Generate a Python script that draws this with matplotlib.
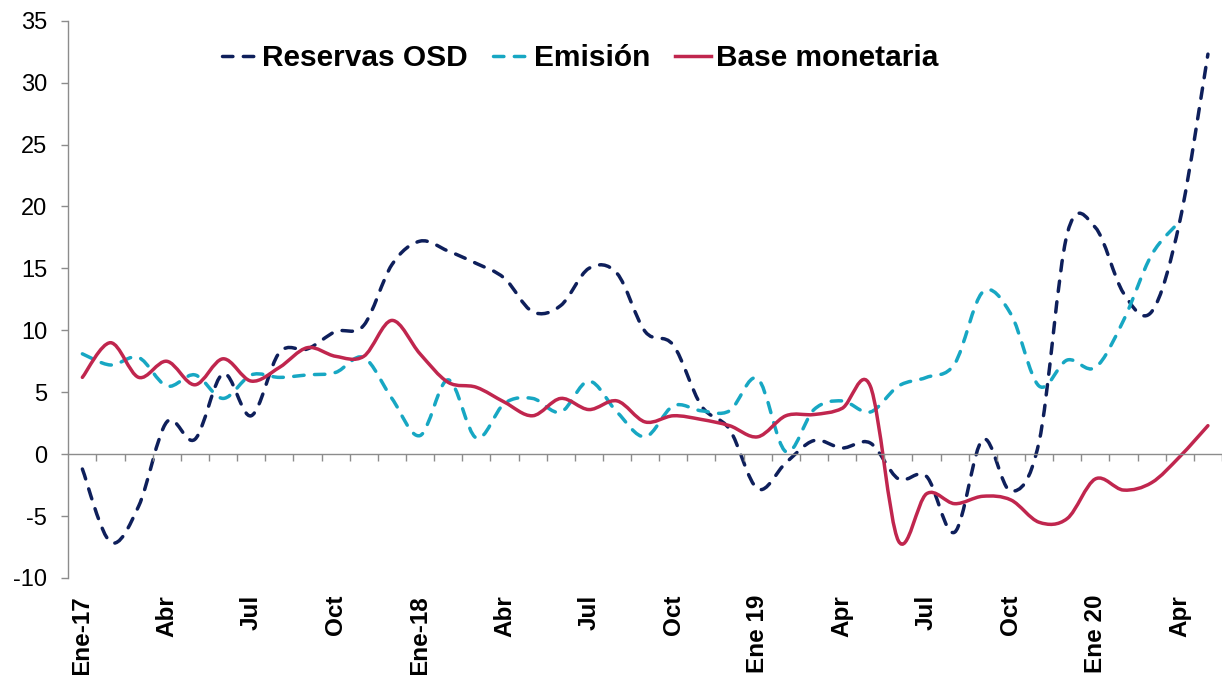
import matplotlib
matplotlib.use("Agg")
import matplotlib.pyplot as plt
import numpy as np
from matplotlib.lines import Line2D
from matplotlib.patches import PathPatch
from matplotlib.path import Path

plt.rcParams["font.family"] = ["Liberation Sans", "DejaVu Sans"]
plt.rcParams["axes.unicode_minus"] = False

# monthly, Ene-2017 .. May-2020
RESERVAS = [-1.2, -7.1, -4.2, 2.6, 1.2, 6.5, 3.1, 8.2, 8.5, 9.9,
            10.4, 15.3, 17.2, 16.4, 15.4, 14.2, 11.5, 12.0, 15.0, 14.6,
            9.9, 8.8, 3.9, 2.0, -2.8, -0.7, 1.1, 0.5, 0.9, -2.0,
            -1.8, -6.3, 1.2, -3.0, 1.0, 17.8, 18.3, 13.0, 11.5, 18.8,
            32.3]
EMISION = [8.1, 7.2, 7.8, 5.5, 6.4, 4.5, 6.4, 6.2, 6.4, 6.6,
           7.8, 4.5, 1.5, 6.0, 1.3, 4.1, 4.5, 3.4, 5.9, 3.4,
           1.4, 3.9, 3.5, 3.5, 6.1, 0.2, 3.6, 4.3, 3.4, 5.5,
           6.2, 7.3, 13.1, 11.3, 5.5, 7.6, 7.0, 10.8, 16.1, 18.8]
BASE = [6.2, 9.0, 6.2, 7.5, 5.6, 7.7, 5.9, 7.0, 8.6, 7.9,
        7.9, 10.8, 8.1, 5.8, 5.4, 4.2, 3.1, 4.5, 3.6, 4.3,
        2.6, 3.1, 2.8, 2.3, 1.4, 3.1, 3.2, 3.7, 5.5, -7.0,
        -3.2, -4.0, -3.4, -3.7, -5.5, -5.2, -2.0, -2.9, -2.3, -0.2,
        2.3]

TICK_POS = [0, 3, 6, 9, 12, 15, 18, 21, 24, 27, 30, 33, 36, 39]
TICK_LABELS = ["Ene-17", "Abr", "Jul", "Oct", "Ene-18", "Abr", "Jul", "Oct",
               "Ene 19", "Apr", "Jul", "Oct", "Ene 20", "Apr"]

SERIES = [
    ("Reservas OSD", RESERVAS, "#0e1f5b", (0, (3.0, 3.0))),
    ("Emisión", EMISION, "#17a7c3", (0, (3.0, 3.0))),
    ("Base monetaria", BASE, "#c0264e", "-"),
]

GRAY = "#8c8c8c"
LW = 2.5


def smooth_path(values):
    # excel-like smoothed line: bezier through each point
    y = np.asarray(values, dtype=float)
    pts = np.column_stack([np.arange(len(y), dtype=float), y])
    padded = np.vstack([pts[0], pts, pts[-1]])
    verts = [pts[0]]
    codes = [Path.MOVETO]
    for i in range(len(pts) - 1):
        p0, p1, p2, p3 = padded[i], padded[i + 1], padded[i + 2], padded[i + 3]
        verts += [p1 + (p2 - p0) / 6.0, p2 - (p3 - p1) / 6.0, p2]
        codes += [Path.CURVE4] * 3
    return Path(verts, codes)


def main():
    fig = plt.figure(figsize=(12.22, 6.75), dpi=100)
    ax = fig.add_axes([68.3 / 1222, 1 - 578 / 675, 1 - 68.3 / 1222, (578 - 20.7) / 675])

    handles = []
    for label, values, color, ls in SERIES:
        patch = PathPatch(smooth_path(values), fill=False, edgecolor=color,
                          linewidth=LW, linestyle=ls, capstyle="round", joinstyle="round")
        ax.add_patch(patch)
        handles.append(Line2D([], [], color=color, linewidth=LW, linestyle=ls,
                              dash_capstyle="round", label=label))

    ax.set_xlim(-0.5, -0.5 + (1222 - 68.3) / 28.2)
    ax.set_ylim(-10, 35)

    for side in ["top", "right"]:
        ax.spines[side].set_visible(False)
    for side in ["left", "bottom"]:
        ax.spines[side].set_color(GRAY)
        ax.spines[side].set_linewidth(1.0)
    ax.spines["bottom"].set_position(("data", 0))

    ax.set_yticks(np.arange(-10, 36, 5))
    ax.tick_params(axis="y", length=4.8, width=1.0, color=GRAY, labelsize=17, pad=10.5)

    ax.set_xticks([])
    ax.set_xticks(np.arange(0.5, 40.6, 1.0), minor=True)
    ax.tick_params(axis="x", which="minor", length=5.2, width=1.0, color=GRAY, direction="out")

    for pos, lab in zip(TICK_POS, TICK_LABELS):
        ax.text(pos, -0.0305, lab, transform=ax.get_xaxis_transform(), rotation=90,
                ha="center", va="top", fontsize=17.5, fontweight="bold")

    fig.legend(handles=handles, loc="center", bbox_to_anchor=(580 / 1222, 1 - 58 / 675),
               ncol=3, frameon=False, prop=dict(weight="bold", size=21.5),
               handlelength=1.2, handletextpad=0.15, columnspacing=0.85)

    fig.savefig("out.png", dpi=100)
    plt.close(fig)


if __name__ == "__main__":
    main()
